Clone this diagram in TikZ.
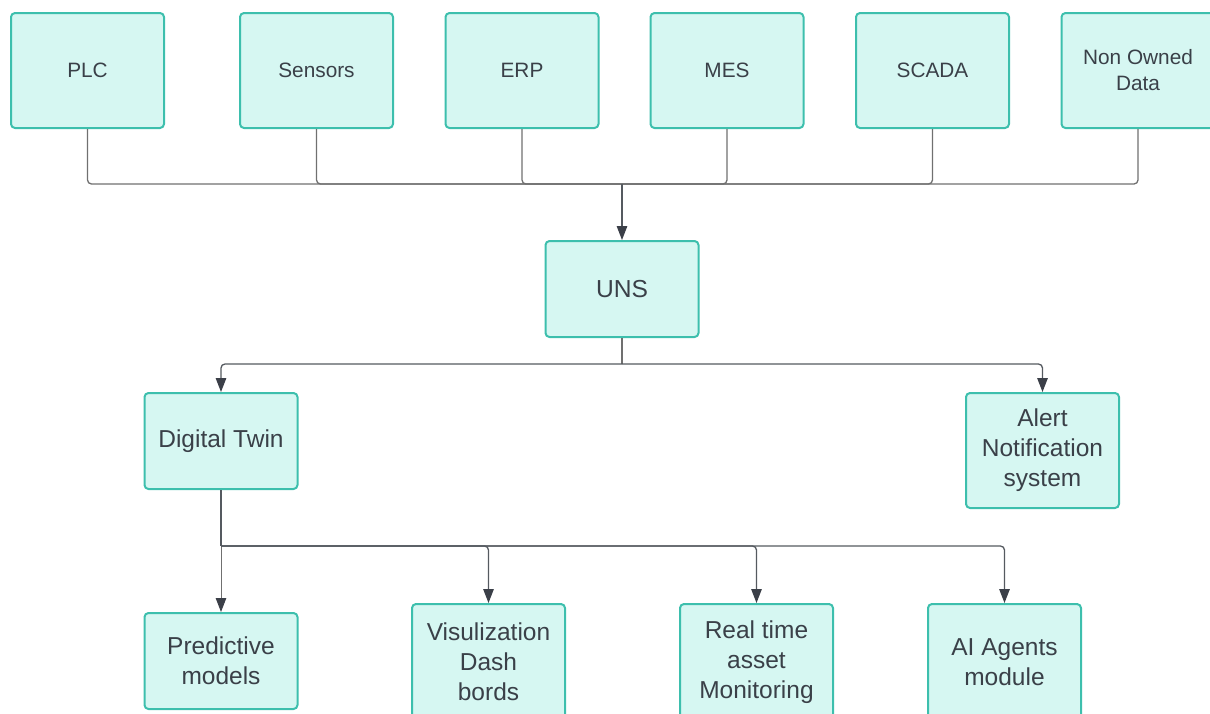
\documentclass[tikz,border=0pt]{standalone}
\usepackage{fontspec}
\setmainfont{Liberation Sans}
\usetikzlibrary{arrows.meta}
\definecolor{boxfill}{HTML}{D6F7F2}
\definecolor{boxline}{HTML}{3DBFAD}
\definecolor{txt}{HTML}{3A4048}
\definecolor{wirec}{HTML}{707070}
\definecolor{wired}{HTML}{555A60}
\definecolor{tipc}{HTML}{3B3F48}
\begin{document}
\begin{tikzpicture}[x=1pt,y=-1pt,
  box/.style={draw=boxline,fill=boxfill,line width=2pt,rounded corners=4pt,minimum width=153pt,align=center,text=txt,inner sep=0pt},
  topbox/.style={box,minimum height=115pt,font=\fontsize{20.8}{26}\selectfont},
  lowbox/.style={box,font=\fontsize{24.5}{30}\selectfont},
  wire/.style={draw=wirec,line width=1.3pt,rounded corners=4pt},
  wiredark/.style={wire,draw=wired},
  arr/.style={wiredark,-{Triangle[length=14pt,width=10.5pt,fill=tipc,color=tipc]}}]
\useasboundingbox (0,0) rectangle (1210,713);
% top row
\node[topbox] (plc) at (87.5,70.5) {PLC};
\node[topbox] (sen) at (316.5,70.5) {Sensors};
\node[topbox] (erp) at (522,70.5) {ERP};
\node[topbox] (mes) at (727,70.5) {MES};
\node[topbox] (sca) at (932.5,70.5) {SCADA};
\node[topbox] (non) at (1138,70.5) {Non Owned\\Data};
% middle
\node[box,minimum height=96pt,font=\fontsize{24.6}{30}\selectfont] (uns) at (622,289) {UNS};
\node[lowbox,minimum height=96pt] (dt) at (221,441) {Digital Twin};
\node[lowbox,minimum height=115pt] (alert) at (1042.5,450.5) {Alert\\Notification\\system};
% bottom row
\node[lowbox,minimum height=96pt] (pred) at (221,661) {Predictive\\models};
\node[lowbox,minimum height=116pt] (vis) at (488.5,662) {Visulization\\Dash\\bords};
\node[lowbox,minimum height=116pt] (rt) at (756.5,662) {Real time\\asset\\Monitoring};
\node[lowbox,minimum height=116pt] (ai) at (1004.5,662) {AI Agents\\module};
% connectors: sources to UNS
\coordinate (j1) at (622,184);
\foreach \n in {plc,sen,erp,mes,sca,non}
  \draw[wire] (\n.south) |- (j1);
\draw[arr] (j1) -- (uns.north);
% UNS to digital twin and alert
\coordinate (j2) at (622,364);
\draw[wire] (uns.south) -- (j2);
\draw[arr] (j2) -| (dt.north);
\draw[arr] (j2) -| (alert.north);
% digital twin to modules
\coordinate (j3) at (221,546);
\draw[wiredark] (dt.south) -- (j3);
\draw[arr,draw=wirec,line width=1pt] (j3) -- (pred.north);
\draw[arr] (j3) -| (vis.north);
\draw[arr] (j3) -| (rt.north);
\draw[arr] (j3) -| (ai.north);
\end{tikzpicture}
\end{document}
